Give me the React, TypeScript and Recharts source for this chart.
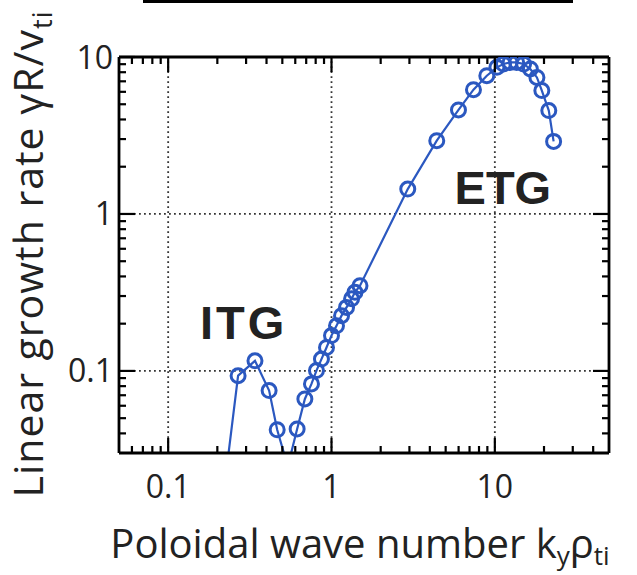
import React from 'react';
import { LineChart, Line, XAxis, YAxis, ReferenceLine, ReferenceDot } from 'recharts';

// ---- data ----
const kyRho = [0.22, 0.268, 0.34, 0.415, 0.465, 0.54, 0.616, 0.687, 0.754, 0.809, 0.868, 0.932, 1.0, 1.073, 1.152, 1.236, 1.327, 1.392, 1.494, 2.93, 4.41, 5.99, 7.4, 8.93, 10.3, 11.3, 12.4, 13.6, 15.0, 16.5, 18.1, 19.4, 21.4, 22.9];
const growthRate = [0.0176, 0.0933, 0.116, 0.075, 0.0422, 0.0246, 0.0427, 0.0663, 0.0827, 0.1005, 0.119, 0.141, 0.168, 0.194, 0.225, 0.254, 0.288, 0.317, 0.349, 1.44, 2.93, 4.6, 6.19, 7.6, 8.59, 9.02, 9.24, 9.24, 9.02, 8.39, 7.41, 6.11, 4.56, 2.9];

const xMajorTicks = [0.1, 1, 10];
const xTickLabels = ['0.1', '1', '10'];
const xMinorTicks = [0.06, 0.07, 0.08, 0.09, 0.2, 0.3, 0.4, 0.5, 0.6, 0.7, 0.8, 0.9, 2, 3, 4, 5, 6, 7, 8, 9, 20, 30, 40];
const yMajorTicks = [0.1, 1, 10];
const yTickLabels = ['0.1', '1', '10'];
const yMinorTicks = [0.04, 0.05, 0.06, 0.07, 0.08, 0.09, 0.2, 0.3, 0.4, 0.5, 0.6, 0.7, 0.8, 0.9, 2, 3, 4, 5, 6, 7, 8, 9];
const xDomain = [0.05, 50];
const yDomain = [0.03, 10];

const modeNames = ['ITG', 'ETG'];
const modeKy = [0.29, 11.2];
const modeGamma = [0.16, 1.163];

const data = kyRho.map((k, i) => ({ k, g: growthRate[i] }));
const xTicksAll = [...xMajorTicks, ...xMinorTicks].sort((a, b) => a - b);
const yTicksAll = [...yMajorTicks, ...yMinorTicks].sort((a, b) => a - b);

const BLUE = '#2b58c0';
const FONT = "'Open Sans', 'Noto Sans', sans-serif";
const TEXT = '#222';

function makeXTick(side: 'bottom' | 'top') {
  return (props: any) => {
    const { x, y, payload } = props;
    const mi = xMajorTicks.indexOf(payload.value);
    const major = mi >= 0;
    const len = major ? 15 : 7;
    const dir = side === 'bottom' ? -1 : 1;
    return (
      <g>
        <line x1={x} x2={x} y1={y} y2={y + dir * len} stroke="#000" strokeWidth={2.2} />
        {side === 'bottom' && major && (
          <text x={x} y={y + 45} textAnchor="middle" fontSize={32} fontFamily={FONT} fill={TEXT}>
            {xTickLabels[mi]}
          </text>
        )}
      </g>
    );
  };
}

function makeYTick(side: 'left' | 'right') {
  return (props: any) => {
    const { x, y, payload } = props;
    const mi = yMajorTicks.indexOf(payload.value);
    const major = mi >= 0;
    const len = major ? 16 : 7;
    const dir = side === 'left' ? 1 : -1;
    return (
      <g>
        <line x1={x} x2={x + dir * len} y1={y} y2={y} stroke="#000" strokeWidth={2.2} />
        {side === 'left' && major && (
          <text x={x - 6} y={y} dy="0.36em" textAnchor="end" fontSize={32} fontFamily={FONT} fill={TEXT}>
            {yTickLabels[mi]}
          </text>
        )}
      </g>
    );
  };
}

const XTitle = (props: any) => {
  const vb = props.viewBox || {};
  const cx = vb.x + vb.width / 2 - 4;
  const y = vb.y + 105;
  return (
    <text x={cx} y={y} textAnchor="middle" fontSize={40} fontFamily={FONT} fill={TEXT}>
      Poloidal wave number k
      <tspan fontSize={26} dy={7}>y</tspan>
      <tspan fontSize={40} dy={-7}>ρ</tspan>
      <tspan fontSize={26} dy={7}>ti</tspan>
    </text>
  );
};

const YTitle = (props: any) => {
  const vb = props.viewBox || {};
  const bx = vb.x + vb.width - 76;
  const cy = vb.y + vb.height / 2 - 1;
  return (
    <text x={bx} y={cy} transform={`rotate(-90, ${bx}, ${cy})`} textAnchor="middle" fontSize={41} letterSpacing={1} fontFamily={FONT} fill={TEXT}>
      Linear growth rate γR/v
      <tspan fontSize={27} dy={9}>ti</tspan>
    </text>
  );
};

const modeLabel = (name: string, spacing: number) => (props: any) => {
  const vb = props.viewBox;
  return (
    <text x={vb.x + (vb.width || 0) / 2} y={vb.y + (vb.height || 0) / 2} textAnchor="middle" fontSize={47} fontWeight="bold" letterSpacing={spacing} fontFamily="'Liberation Sans', Arial, sans-serif" fill={TEXT}>
      {name}
    </text>
  );
};

export default function App() {
  return (
    <div style={{ position: 'absolute', left: 0, top: 0, width: 637, height: 575, background: '#fff' }}>
      <div style={{ position: 'absolute', left: 143, top: 0, width: 430, height: 3, background: '#000' }} />
      <LineChart width={637} height={575} data={data} margin={{ top: 56, right: 27, bottom: 121, left: 118 }}>
        <XAxis
          xAxisId="b"
          dataKey="k"
          type="number"
          scale="log"
          domain={xDomain}
          allowDataOverflow
          ticks={xTicksAll}
          interval={0}
          tick={makeXTick('bottom')}
          tickLine={false}
          tickSize={0}
          tickMargin={0}
          height={1}
          axisLine={{ stroke: '#000', strokeWidth: 2.8 }}
          label={{ content: XTitle }}
        />
        <XAxis
          xAxisId="t"
          orientation="top"
          dataKey="k"
          type="number"
          scale="log"
          domain={xDomain}
          allowDataOverflow
          ticks={xTicksAll}
          interval={0}
          tick={makeXTick('top')}
          tickLine={false}
          tickSize={0}
          tickMargin={0}
          height={1}
          axisLine={{ stroke: '#000', strokeWidth: 2.8 }}
        />
        <YAxis
          yAxisId="l"
          type="number"
          scale="log"
          domain={yDomain}
          allowDataOverflow
          ticks={yTicksAll}
          interval={0}
          tick={makeYTick('left')}
          tickLine={false}
          tickSize={0}
          tickMargin={0}
          width={1}
          axisLine={{ stroke: '#000', strokeWidth: 2.8 }}
          label={{ content: YTitle }}
        />
        <YAxis
          yAxisId="r"
          orientation="right"
          type="number"
          scale="log"
          domain={yDomain}
          allowDataOverflow
          ticks={yTicksAll}
          interval={0}
          tick={makeYTick('right')}
          tickLine={false}
          tickSize={0}
          tickMargin={0}
          width={1}
          axisLine={{ stroke: '#000', strokeWidth: 2.8 }}
        />
        {xMajorTicks.map((v) => (
          <ReferenceLine key={'gx' + v} xAxisId="b" yAxisId="l" x={v} stroke="#333" strokeWidth={1.8} strokeDasharray="1.8 3.2" />
        ))}
        {yMajorTicks.slice(0, 2).map((v) => (
          <ReferenceLine key={'gy' + v} xAxisId="b" yAxisId="l" y={v} stroke="#333" strokeWidth={1.8} strokeDasharray="1.8 3.2" />
        ))}
        {modeNames.map((n, i) => (
          <ReferenceDot key={n} xAxisId="b" yAxisId="l" x={modeKy[i]} y={modeGamma[i]} r={0} fill="none" stroke="none" label={modeLabel(n, i === 0 ? 3 : 0)} />
        ))}
        <Line
          xAxisId="b"
          yAxisId="l"
          dataKey="g"
          type="linear"
          stroke={BLUE}
          strokeWidth={2.2}
          dot={{ r: 7, stroke: BLUE, strokeWidth: 3, fill: 'none' }}
          isAnimationActive={false}
        />
      </LineChart>
    </div>
  );
}
